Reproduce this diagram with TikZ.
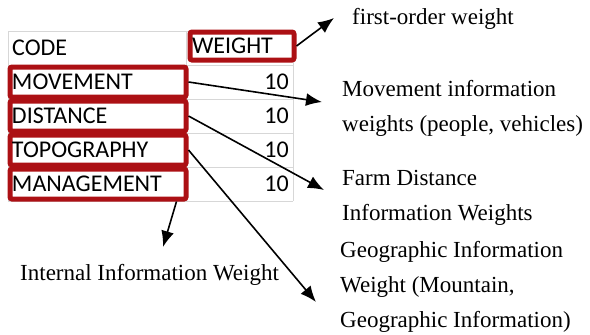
\documentclass[tikz,border=0pt]{standalone}
\usepackage{fontspec}
\setmainfont{Liberation Serif}
\newfontfamily\tablefont{Carlito}
\usetikzlibrary{arrows.meta}

\definecolor{wred}{RGB}{172,16,20}
\definecolor{gridgray}{RGB}{215,215,215}

\tikzset{
  gridline/.style={draw=gridgray, line width=0.8pt},
  codebox/.style={draw=wred, line width=5pt, rounded corners=2pt, minimum width=176pt, minimum height=30pt,
    text width=172pt, align=left, inner xsep=1pt, inner ysep=0pt, font=\tablefont\fontsize{24}{28}\selectfont},
  cell/.style={inner sep=0pt, font=\tablefont\fontsize{24}{28}\selectfont},
  label/.style={align=left, inner sep=0pt, font=\fontsize{23}{35}\selectfont},
  arr/.style={-{Latex[length=16pt,width=13pt]}, line width=1.6pt}
}

\begin{document}
\begin{tikzpicture}[x=1pt, y=-1pt]
\useasboundingbox (0,0) rectangle (590,335);

% Table parameters
\def\tleft{8}
\def\tmid{186}
\def\tright{293}

% Draw the grid of the table
\foreach \y in {31,65,99,133,167,201}
  \draw[gridline] (\tleft,\y) -- (\tright,\y);
\foreach \x in {\tleft,\tmid,\tright}
  \draw[gridline] (\x,31) -- (\x,201);

% Header row
\node[cell, anchor=west] (hcode) at (12,48) {CODE};
\node[draw=wred, line width=5pt, rounded corners=2pt, minimum width=104pt, minimum height=28pt,
  inner sep=0pt, font=\tablefont\fontsize{24}{28}\selectfont, text width=100pt, align=left] (hweight) at (242,46) {WEIGHT};

% Code cells in red boxes
\node[codebox] (mov) at (98,82) {MOVEMENT};
\node[codebox] (dist) at (98,116) {DISTANCE};
\node[codebox] (topo) at (98,150) {TOPOGRAPHY};
\node[codebox] (mgmt) at (98,184) {MANAGEMENT};

% Weight values
\node[cell, anchor=east] (vmov) at (289,82) {10};
\node[cell, anchor=east] (vdist) at (289,116) {10};
\node[cell, anchor=east] (vtopo) at (289,150) {10};
\node[cell, anchor=east] (vmgmt) at (289,184) {10};

% Explanations (base is the last line)
\node[label, anchor=base west] (lfirst) at (352,24) {first-order weight};
\node[label, anchor=base west] (lmove) at (342,131) {Movement information\\weights (people, vehicles)};
\node[label, anchor=base west] (lfarm) at (342,220) {Farm Distance\\Information Weights};
\node[label, anchor=base west] (lgeo) at (340,327) {Geographic Information\\Weight (Mountain,\\Geographic Information)};
\node[label, anchor=base west] (linternal) at (20,280) {Internal Information Weight};

% Arrow tips
\coordinate (tfirst) at (334,18);
\coordinate (tmove) at (322,102);
\coordinate (tfarm) at (324,190);
\coordinate (tgeo) at (316,302);
\coordinate (tinternal) at (163,247);

% Draw the arrows
\draw[arr] (hweight.east) -- (tfirst);
\draw[arr] (mov.east) -- (tmove);
\draw[arr] (dist.east) -- (tfarm);
\draw[arr] (topo.east) -- (tgeo);
\draw[arr] ([xshift=-12pt]mgmt.south east) -- (tinternal);
\end{tikzpicture}
\end{document}
